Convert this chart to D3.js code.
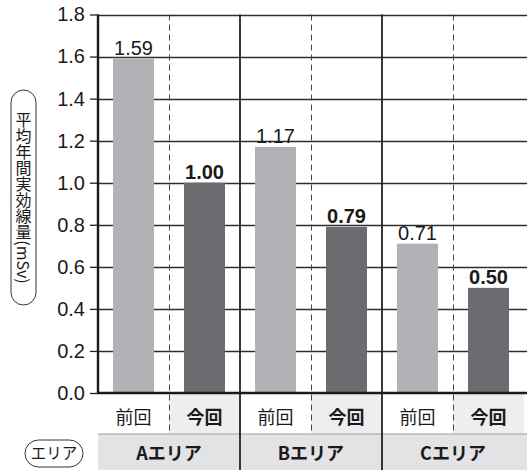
<!DOCTYPE html>
<html>
<head>
<meta charset="utf-8">
<script src="https://cdn.jsdelivr.net/npm/d3@7"></script>
<style>
  body { margin: 0; background: #fff; }
  svg { display: block; }
</style>
</head>
<body>
<div id="viz"></div>
<script>
const AREAS = ["A", "B", "C"];
const AREA_LABELS = ["Aエリア", "Bエリア", "Cエリア"];
const PERIODS = ["前回", "今回"];
const PREV_VALUES = [1.59, 1.17, 0.71];
const CURR_VALUES = [1.00, 0.79, 0.50];
const Y_TICKS = [0, 0.2, 0.4, 0.6, 0.8, 1.0, 1.2, 1.4, 1.6, 1.8];
const Y_TITLE = "平均年間実効線量(mSv)";
const AREA_TITLE = "エリア";

const W = 527, H = 470;
const LEFT = 98, TOP = 14.5, BASE = 393;
const ROW1 = 434;
const LATIN = "'Liberation Sans', Arial, sans-serif";
const CJK = "'Noto Sans CJK JP', sans-serif";
const LIGHT = "#b1b2b6", DARK = "#6b6c70";

const svg = d3.select("#viz").append("svg").attr("width", W).attr("height", H);

const x = d3.scaleBand().domain(AREAS).range([LEFT, LEFT + 426]);
const xIn = d3.scaleBand().domain(PERIODS).range([0, x.bandwidth()])
  .paddingInner(0.4225).paddingOuter(0.21125);
const y = d3.scaleLinear().domain([0, 1.8]).range([BASE, TOP]);

const rows = AREAS.map((a, i) => ({
  area: a,
  label: AREA_LABELS[i],
  bars: [
    { period: PERIODS[0], value: PREV_VALUES[i], fill: LIGHT, bold: false },
    { period: PERIODS[1], value: CURR_VALUES[i], fill: DARK, bold: true }
  ]
}));

// bottom table backgrounds
svg.selectAll("rect.cur").data(AREAS).join("rect")
  .attr("x", d => x(d) + x.bandwidth() / 2).attr("y", BASE)
  .attr("width", x.bandwidth() / 2).attr("height", ROW1 - BASE)
  .attr("fill", "#eeeeef");
svg.append("rect").attr("x", LEFT).attr("y", ROW1).attr("width", W - LEFT).attr("height", H - ROW1)
  .attr("fill", "#e3e3e5");
svg.append("line").attr("x1", LEFT).attr("x2", W).attr("y1", ROW1).attr("y2", ROW1)
  .attr("stroke", "#a0a0a0").attr("stroke-width", 1);

// gridlines
svg.selectAll("line.grid").data(Y_TICKS.slice(1)).join("line")
  .attr("x1", LEFT).attr("x2", W)
  .attr("y1", d => Math.round(y(d)) + 0.5).attr("y2", d => Math.round(y(d)) + 0.5)
  .attr("stroke", "#2e2e2e").attr("stroke-width", 1.3);

// dashed mid lines
svg.selectAll("line.mid").data(AREAS).join("line")
  .attr("x1", d => x(d) + x.bandwidth() / 2 + 0.5).attr("x2", d => x(d) + x.bandwidth() / 2 + 0.5)
  .attr("y1", TOP).attr("y2", ROW1)
  .attr("stroke", "#444").attr("stroke-width", 1).attr("stroke-dasharray", "6,4");

// bars
const g = svg.selectAll("g.area").data(rows).join("g")
  .attr("transform", d => `translate(${x(d.area)},0)`);
g.selectAll("rect").data(d => d.bars).join("rect")
  .attr("x", d => xIn(d.period)).attr("width", xIn.bandwidth())
  .attr("y", d => y(d.value)).attr("height", d => BASE - y(d.value))
  .attr("fill", d => d.fill);
g.selectAll("text.val").data(d => d.bars).join("text")
  .attr("x", d => xIn(d.period) + xIn.bandwidth() / 2)
  .attr("y", d => y(d.value) - 4)
  .attr("text-anchor", "middle")
  .attr("font-family", LATIN).attr("font-size", 20)
  .attr("font-weight", d => d.bold ? "bold" : "normal")
  .attr("fill", "#1a1a1a")
  .text(d => d.value.toFixed(2));
g.selectAll("text.per").data(d => d.bars).join("text")
  .attr("x", d => xIn(d.period) + xIn.bandwidth() / 2)
  .attr("y", BASE + 31)
  .attr("text-anchor", "middle")
  .attr("font-family", CJK).attr("font-size", 18)
  .attr("font-weight", d => d.bold ? "bold" : "normal")
  .attr("fill", "#1a1a1a")
  .text(d => d.period);
g.append("text")
  .attr("x", x.bandwidth() / 2).attr("y", ROW1 + 26)
  .attr("text-anchor", "middle")
  .attr("font-family", CJK).attr("font-size", 18).attr("font-weight", "bold")
  .attr("fill", "#1a1a1a")
  .text(d => d.label);

// solid group separators
svg.selectAll("line.sep").data(AREAS.slice(1)).join("line")
  .attr("x1", d => x(d)).attr("x2", d => x(d))
  .attr("y1", TOP).attr("y2", H)
  .attr("stroke", "#222").attr("stroke-width", 1.8);

// y axis
const axis = svg.append("g").attr("transform", `translate(${LEFT},0)`)
  .call(d3.axisLeft(y).tickValues(Y_TICKS).tickFormat(d3.format(".1f")).tickSize(8).tickPadding(5));
axis.select(".domain").remove();
axis.selectAll(".tick line").attr("stroke", "#222").attr("stroke-width", 1.3);
axis.selectAll(".tick text").attr("font-family", LATIN).attr("font-size", 20).attr("fill", "#1a1a1a");
svg.append("line").attr("x1", LEFT).attr("x2", LEFT).attr("y1", TOP).attr("y2", BASE + 1)
  .attr("stroke", "#1a1a1a").attr("stroke-width", 2.4);
svg.append("line").attr("x1", LEFT - 1).attr("x2", W).attr("y1", BASE).attr("y2", BASE)
  .attr("stroke", "#1a1a1a").attr("stroke-width", 2.4);

// y title pill
svg.append("rect").attr("x", 11).attr("y", 90).attr("width", 25).attr("height", 215)
  .attr("rx", 12.5).attr("fill", "#fff").attr("stroke", "#333").attr("stroke-width", 1);
svg.append("text")
  .attr("x", 23.5).attr("y", 198)
  .attr("text-anchor", "middle")
  .style("writing-mode", "vertical-rl")
  .attr("font-family", CJK).attr("font-size", 16)
  .attr("fill", "#1a1a1a")
  .text(Y_TITLE);

// area pill
svg.append("rect").attr("x", 25).attr("y", 440).attr("width", 58).attr("height", 27)
  .attr("rx", 13.5).attr("fill", "#fff").attr("stroke", "#333").attr("stroke-width", 1);
svg.append("text")
  .attr("x", 54).attr("y", 459)
  .attr("text-anchor", "middle")
  .attr("font-family", CJK).attr("font-size", 15.5)
  .attr("fill", "#1a1a1a")
  .text(AREA_TITLE);
</script>
</body>
</html>
